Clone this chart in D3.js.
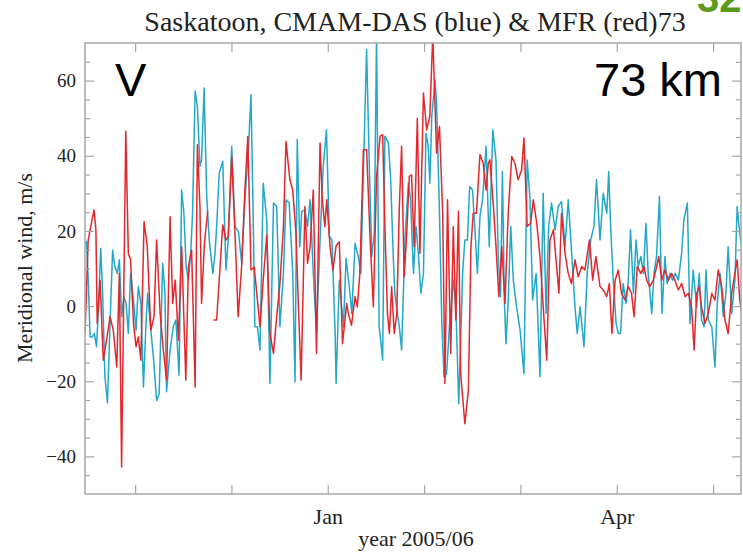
<!DOCTYPE html>
<html>
<head>
<meta charset="utf-8">
<script src="https://cdn.jsdelivr.net/npm/d3@7"></script>
<style>
  body { margin: 0; background: #fff; }
  text { font-family: "Liberation Serif", "Times New Roman", serif; }
</style>
</head>
<body>
<svg id="chart" width="743" height="552"></svg>
<script>
// Days counted from the left edge of the plot (ticks every 30 days).
const xTickDays = [15.6, 45.6, 75.6, 105.6, 135.6, 165.6, 195.6];
const xTickLabels = ["", "", "Jan", "", "", "Apr", ""];
const yMajorTicks = [-40, -20, 0, 20, 40, 60];
const yMinorTicks = [-45, -35, -30, -25, -15, -10, -5, 5, 10, 15, 25, 30, 35, 45, 50, 55, 65];

// MFR radar (red), [day, m/s]; null marks the data gap
const mfrRed = [
  [0.0,-7.3],[1.0,17.6],[2.1,22.5],[2.8,25.6],[3.4,20.3],[3.8,-4.6],[4.7,6.9],[5.7,-14.4],
  [6.7,-9.1],[7.8,-2.8],[8.8,-6.4],[9.9,-16.2],[10.7,8.7],[11.4,-42.8],[12.7,46.5],[13.5,14.0],
  [14.2,12.3],[15.1,-4.6],[15.9,-10.8],[16.6,-8.2],[17.4,-14.4],[18.4,22.5],[19.4,15.8],[20.5,-6.4],
  [21.5,-2.8],[22.3,17.6],[23.4,-2.0],[24.4,-11.7],[25.4,-19.7],[26.5,23.8],[27.3,0.7],[28.1,6.9],
  [29.1,-9.1],[30.1,15.8],[31.4,-19.7],[32.2,10.5],[33.2,14.9],[34.3,-21.5],[35.0,42.9],[35.8,26.5],
  [36.3,0.7],[37.2,16.7],[38.2,25.2],[39.0,null],[40.0,-3.7],[41.0,-3.7],[42.9,21.6],[43.9,17.6],
  [44.6,18.4],[45.7,39.8],[46.7,19.5],[47.7,-2.8],[48.8,10.8],[49.8,30.9],[50.7,45.1],[51.7,9.6],
  [52.7,10.4],[54.5,-5.5],[55.5,6.9],[56.6,18.9],[57.6,-7.3],[58.7,-12.6],[59.7,-2.8],[60.7,5.9],
  [61.8,21.1],[62.6,43.8],[63.8,33.6],[64.7,30.9],[65.7,19.4],[66.4,1.6],[67.3,-19.7],[68.5,26.5],
  [69.3,11.4],[70.1,15.8],[71.1,30.9],[72.1,-12.6],[73.2,43.4],[73.9,28.3],[74.7,21.2],[75.3,28.3],
  [76.3,16.0],[77.2,9.6],[78.2,16.0],[79.2,17.1],[80.2,-10.0],[81.5,0.7],[82.0,-2.0],[83.0,-5.1],
  [84.1,2.5],[84.8,-0.2],[85.6,8.7],[86.7,41.6],[87.7,41.6],[88.8,17.6],[89.8,-0.2],[90.8,34.5],
  [91.9,45.2],[92.7,45.6],[93.4,21.2],[94.2,-2.0],[94.8,-7.3],[95.5,5.2],[96.3,-7.3],[97.1,-2.0],
  [97.9,26.5],[98.6,42.5],[99.4,7.8],[100.2,19.4],[101.0,34.5],[101.7,34.9],[102.5,15.8],[103.5,50.0],
  [104.3,14.0],[105.4,56.7],[106.4,46.9],[107.4,50.5],[108.3,72.0],[109.5,40.7],[110.4,47.8],[111.4,24.7],
  [112.1,-20.6],[112.9,28.3],[113.9,-12.6],[114.7,21.2],[115.5,-3.7],[116.3,25.2],[117.0,-18.0],[118.3,-31.3],
  [119.4,-22.4],[120.2,15.8],[120.9,24.7],[121.9,24.7],[123.0,40.3],[124.0,38.0],[124.9,30.9],[125.6,38.0],
  [126.1,38.9],[127.2,26.5],[128.0,15.8],[128.9,2.5],[129.8,15.8],[130.8,0.7],[131.8,24.7],[132.9,39.8],
  [133.9,38.0],[134.9,33.6],[136.0,36.3],[136.7,44.7],[137.7,21.2],[138.8,22.0],[139.6,28.3],[140.7,22.0],
  [141.7,13.2],[142.7,-0.2],[143.8,-14.4],[144.8,17.6],[145.9,20.3],[146.7,12.3],[147.6,3.4],[148.4,24.7],
  [149.5,14.0],[150.5,8.7],[151.5,6.0],[152.6,12.3],[153.6,7.8],[154.7,10.5],[155.7,9.6],[157.1,17.6],
  [158.1,6.9],[159.1,13.2],[160.4,5.2],[161.4,4.3],[162.5,2.5],[163.3,6.0],[164.1,-7.3],[165.1,6.9],
  [166.1,9.6],[167.1,3.4],[168.2,1.6],[169.2,5.2],[170.2,3.4],[171.0,-2.8],[172.0,10.5],[173.1,8.7],
  [174.1,10.5],[174.9,6.9],[175.9,5.2],[177.0,6.9],[177.8,9.6],[178.7,13.2],[179.6,6.9],[180.6,9.6],
  [181.7,6.9],[182.7,8.7],[183.7,6.9],[184.8,4.3],[185.8,6.0],[186.9,2.5],[187.9,3.4],[188.9,-0.2],
  [189.7,-11.7],[190.5,3.4],[191.3,5.2],[192.0,-0.2],[193.1,-4.6],[194.1,-2.0],[195.2,3.4],[196.2,1.6],
  [197.2,9.6],[198.3,5.2],[199.3,-3.7],[200.3,-7.3],[201.4,3.4],[202.4,8.7],[203.1,12.3],[203.9,1.6],
  [204.7,-2.8]
];

// CMAM-DAS model (blue), [day, m/s]
const cmamBlue = [
  [0.0,16.7],[0.5,17.2],[1.0,6.9],[1.6,-8.2],[2.3,-8.2],[2.9,-7.3],[3.6,-10.8],[4.2,-0.2],
  [4.9,15.4],[5.5,3.4],[6.2,-18.8],[7.0,-25.8],[7.8,-4.6],[8.6,14.9],[9.3,10.5],[10.1,8.7],
  [10.7,12.3],[11.4,-2.8],[12.1,2.5],[12.8,0.7],[13.5,-7.3],[14.2,8.7],[15.1,1.6],[15.9,-6.4],
  [16.6,5.2],[17.4,0.7],[18.2,-21.5],[19.0,-4.6],[19.5,3.4],[20.5,-6.4],[21.3,-13.5],[22.3,-25.1],
  [23.1,-23.3],[24.2,11.4],[24.9,3.4],[25.4,-22.8],[26.5,-11.7],[27.5,-5.5],[28.3,-3.7],[29.3,-18.4],
  [30.1,30.9],[30.8,24.7],[31.5,10.5],[32.2,6.9],[32.9,14.0],[33.5,24.7],[34.3,57.2],[35.0,53.2],
  [35.8,37.2],[36.3,38.9],[37.1,58.0],[37.9,29.2],[38.7,17.6],[39.8,8.7],[40.5,14.0],[41.0,21.2],
  [41.8,35.4],[42.9,38.5],[43.9,9.6],[44.6,17.6],[45.7,42.5],[46.7,21.2],[47.8,19.8],[48.8,11.4],
  [49.8,28.3],[50.9,41.6],[51.7,56.3],[52.4,22.9],[52.9,-5.5],[53.7,-5.5],[54.5,-11.7],[55.5,32.7],
  [56.6,22.9],[57.6,-20.6],[58.7,27.4],[59.7,26.5],[60.7,-5.5],[61.8,8.7],[62.6,28.3],[63.6,27.4],
  [64.7,8.7],[65.4,-20.2],[66.1,44.3],[66.9,15.8],[67.5,25.2],[68.5,25.6],[69.3,21.2],[70.1,28.3],
  [71.1,8.7],[72.1,-7.3],[73.2,17.6],[74.2,37.2],[75.2,46.9],[76.1,18.5],[76.9,17.6],[77.9,-7.3],
  [78.2,-20.6],[79.2,6.9],[80.5,-5.5],[81.3,12.7],[82.3,5.2],[83.1,-2.0],[84.1,16.7],[85.1,13.2],
  [85.9,8.7],[86.9,42.5],[87.7,68.3],[88.6,35.4],[89.3,13.2],[90.1,19.4],[90.8,72.0],[91.6,-5.5],
  [92.1,-9.1],[92.7,-14.4],[93.4,45.2],[94.5,43.4],[95.2,33.6],[96.0,13.2],[96.5,3.4],[97.3,-2.0],
  [97.9,-5.5],[98.6,-11.7],[99.7,18.5],[100.7,32.7],[101.4,28.3],[102.3,8.7],[103.1,21.2],[103.8,14.0],
  [104.6,3.4],[105.4,8.7],[106.2,46.0],[106.9,42.5],[107.4,32.7],[108.0,50.5],[109.0,60.3],[109.5,54.0],
  [110.4,24.7],[111.1,-3.7],[111.8,-18.8],[112.6,-18.0],[113.5,-5.5],[114.7,6.9],[115.5,-0.2],[116.4,-26.0],
  [117.0,-9.1],[117.6,8.7],[118.3,17.6],[119.1,17.6],[119.8,31.8],[120.7,30.9],[121.5,19.4],[122.2,8.7],
  [123.0,23.8],[123.8,28.3],[124.9,42.5],[125.9,15.8],[127.0,46.9],[128.0,38.9],[128.7,13.2],[129.4,2.5],
  [130.0,35.8],[130.6,1.6],[131.1,-10.0],[131.8,1.6],[132.6,21.2],[133.4,6.9],[134.4,-0.2],[135.5,-6.4],
  [136.7,-18.0],[137.7,38.9],[138.6,28.3],[139.4,1.6],[140.5,8.7],[141.7,-18.8],[142.7,30.0],[143.6,-2.0],
  [144.4,21.2],[145.3,27.4],[146.4,20.3],[147.4,26.5],[148.4,27.8],[149.5,15.8],[150.5,28.3],[151.5,14.9],
  [152.6,-0.2],[153.3,-7.3],[154.2,-0.2],[155.4,-10.8],[156.4,8.7],[157.5,17.6],[158.5,21.2],[159.3,33.6],
  [160.4,17.6],[161.4,30.0],[162.5,24.7],[163.1,35.8],[163.7,21.2],[164.5,6.9],[165.4,-4.6],[166.1,-7.3],
  [166.8,-7.3],[167.6,6.0],[168.5,0.7],[169.2,6.9],[169.9,20.3],[170.8,3.4],[171.6,17.6],[172.3,10.5],
  [173.1,13.2],[173.9,8.7],[174.7,22.0],[175.4,8.7],[176.5,-2.0],[177.2,8.7],[178.0,13.2],[178.9,29.2],
  [179.7,-2.0],[180.6,13.2],[181.3,6.0],[182.2,8.7],[183.0,6.9],[183.8,8.7],[184.8,6.9],[185.8,14.0],
  [186.5,22.9],[187.6,27.4],[188.4,-4.6],[189.4,9.6],[190.5,-0.2],[191.3,8.7],[192.0,-3.7],[192.8,-5.5],
  [193.4,9.6],[194.1,-3.7],[195.2,-5.5],[196.2,-16.2],[196.9,0.7],[197.8,8.7],[198.8,-2.8],[199.6,3.4],
  [200.3,15.8],[201.4,-2.0],[202.4,6.9],[203.1,26.5],[203.7,21.2],[204.4,15.8]
];

const svg = d3.select("#chart");
const plot = { left: 85, right: 741, top: 43, bottom: 494 };
const axisGrey = "#a6a6a6";

let x = d3.scaleLinear().domain([0, 204.3]).range([plot.left, plot.right]);
let y = d3.scaleLinear().domain([-50, 70]).range([plot.bottom, plot.top]);

svg.append("clipPath").attr("id", "plotClip")
  .append("rect")
  .attr("x", plot.left).attr("y", plot.top)
  .attr("width", plot.right - plot.left).attr("height", plot.bottom - plot.top);

// Series lines
let line = d3.line()
  .defined(d => d[1] !== null)
  .x(d => x(d[0]))
  .y(d => y(d[1]));

let lines = svg.append("g").attr("clip-path", "url(#plotClip)");
lines.append("path").datum(cmamBlue)
  .attr("fill", "none").attr("stroke", "#23a8c8").attr("stroke-width", 1.5)
  .attr("stroke-linejoin", "round").attr("d", line);
lines.append("path").datum(mfrRed)
  .attr("fill", "none").attr("stroke", "#e3272c").attr("stroke-width", 1.5)
  .attr("stroke-linejoin", "round").attr("d", line);

// Axes: ticks point into the box on all four sides
function styleAxis(g) {
  g.select(".domain").remove();
  g.selectAll(".tick line").attr("stroke", axisGrey).attr("stroke-width", 1.2);
  g.selectAll(".tick text").attr("fill", "#222").style("font-family", "Liberation Serif");
}

svg.append("g").attr("transform", "translate(" + plot.left + ",0)")
  .call(d3.axisLeft(y).tickValues(yMajorTicks).tickSize(-9).tickPadding(9).tickFormat(d3.format("d")))
  .call(styleAxis)
  .call(g => g.selectAll(".tick text").attr("font-size", 19));
svg.append("g").attr("transform", "translate(" + plot.left + ",0)")
  .call(d3.axisLeft(y).tickValues(yMinorTicks).tickSize(-5).tickFormat(""))
  .call(styleAxis);
svg.append("g").attr("transform", "translate(" + plot.right + ",0)")
  .call(d3.axisRight(y).tickValues(yMajorTicks).tickSize(-9).tickFormat(""))
  .call(styleAxis);
svg.append("g").attr("transform", "translate(" + plot.right + ",0)")
  .call(d3.axisRight(y).tickValues(yMinorTicks).tickSize(-5).tickFormat(""))
  .call(styleAxis);

svg.append("g").attr("transform", "translate(0," + plot.bottom + ")")
  .call(d3.axisBottom(x).tickValues(xTickDays).tickSize(-9).tickPadding(14)
    .tickFormat((d, i) => xTickLabels[i]))
  .call(styleAxis)
  .call(g => g.selectAll(".tick text").attr("font-size", 22));
svg.append("g").attr("transform", "translate(0," + plot.top + ")")
  .call(d3.axisTop(x).tickValues(xTickDays).tickSize(-9).tickFormat(""))
  .call(styleAxis);

// Frame
svg.append("rect")
  .attr("x", plot.left).attr("y", plot.top)
  .attr("width", plot.right - plot.left).attr("height", plot.bottom - plot.top)
  .attr("fill", "none").attr("stroke", axisGrey).attr("stroke-width", 1.5);

// Titles
svg.append("text")
  .attr("x", 415).attr("y", 31)
  .attr("text-anchor", "middle").attr("font-size", 28).attr("fill", "#222")
  .text("Saskatoon, CMAM-DAS (blue) & MFR (red)73");

svg.append("text")
  .attr("x", 416).attr("y", 546)
  .attr("text-anchor", "middle").attr("font-size", 22).attr("fill", "#222")
  .text("year 2005/06");

svg.append("text")
  .attr("transform", "translate(32,268) rotate(-90)")
  .attr("text-anchor", "middle").attr("font-size", 22).attr("fill", "#222")
  .text("Meridional wind, m/s");

// Slide annotations
svg.append("text")
  .attr("x", 115).attr("y", 96)
  .style("font-family", "Liberation Sans, Arial, sans-serif")
  .attr("font-size", 47).attr("fill", "#000")
  .text("V");

svg.append("text")
  .attr("x", 722).attr("y", 96)
  .attr("text-anchor", "end")
  .style("font-family", "Liberation Sans, Arial, sans-serif")
  .attr("font-size", 47).attr("fill", "#000")
  .text("73 km");

svg.append("text")
  .attr("x", 697).attr("y", 12)
  .style("font-family", "Liberation Sans, Arial, sans-serif")
  .attr("font-size", 40).attr("font-weight", "bold").attr("fill", "#5c9a1e")
  .text("32");
</script>
</body>
</html>
